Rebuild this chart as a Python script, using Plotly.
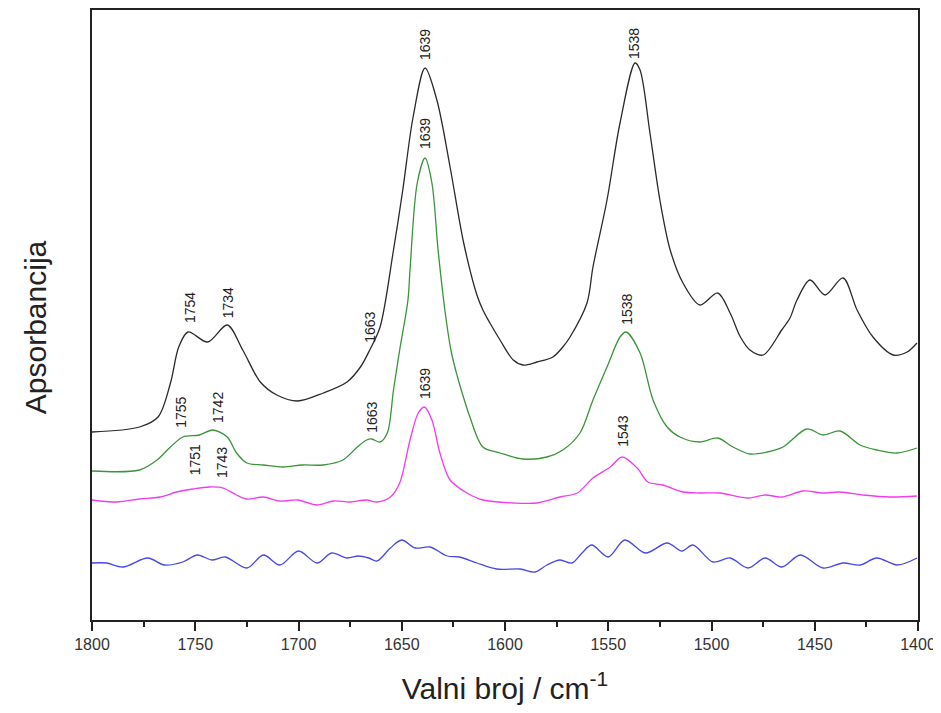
import plotly.graph_objects as go

# Wavenumber (cm-1) and absorbance (arbitrary units, offset spectra)
black_x = [1800, 1777, 1768, 1762, 1758, 1753.5, 1744, 1734.5, 1727, 1718.5, 1710.5, 1700.5, 1688, 1676.5,
           1670, 1665.5, 1660.5, 1654, 1649.5, 1644.5, 1638.7, 1633, 1626.6, 1620, 1613.6, 1610.7, 1607.3,
           1602.4, 1596, 1591.3, 1584.5, 1576.8, 1572, 1568.5, 1560.3, 1557.4, 1550.6, 1544.3, 1537, 1534.6,
           1529.8, 1525, 1520, 1513.8, 1505.6, 1497, 1491, 1486, 1481.4, 1475, 1466, 1462, 1458.6,
           1452.3, 1445, 1436.3, 1429.5, 1421.8, 1412, 1405.3, 1400.5]
black_y = [188, 193, 203, 237, 273, 288, 278, 295, 270, 238, 225, 219, 227, 238,
           253, 270, 293, 370, 430, 503, 552, 520, 453, 377, 325, 310, 297,
           280, 260, 255, 258, 263, 273, 283, 317, 353, 420, 497, 557, 550,
           487, 420, 370, 337, 315, 327, 307, 283, 270, 265, 290, 302, 320,
           340, 325, 342, 310, 283, 265, 268, 277]

green_x = [1800, 1777, 1768.5, 1762, 1756, 1748, 1741.5, 1734.5, 1730, 1725, 1717, 1707.5, 1698, 1688,
           1678.5, 1671.5, 1667, 1664.5, 1660.5, 1657, 1654, 1651, 1647, 1646, 1642.5, 1638.7, 1635.4,
           1632.4, 1629, 1626, 1623, 1620, 1617, 1610.7, 1602.4, 1591.3, 1579.7, 1572, 1563.7, 1557.4, 1550.6,
           1544.3, 1541.4, 1534.6, 1528.3, 1521.5, 1515.3, 1505.6, 1497, 1489.6, 1481.4, 1473, 1465.4,
           1453.8, 1446, 1437.8, 1428, 1420, 1410, 1400.5]
green_y = [149, 150, 160, 173, 183, 185, 190, 183, 167, 157, 155, 153, 155, 155,
           160, 173, 180, 181, 178, 187, 230, 270, 320, 350, 437, 462, 437,
           370, 308, 268, 243, 222, 203, 173, 167, 161, 163, 170, 187, 220, 253,
           283, 288, 267, 220, 193, 183, 178, 182, 173, 166, 168, 173,
           191, 185, 189, 175, 170, 167, 172]

magenta_x = [1800, 1788, 1777, 1767, 1759, 1751, 1743, 1736.5, 1730, 1725, 1717, 1709, 1700.5, 1691,
             1683, 1675, 1667, 1662, 1655.5, 1651, 1646, 1642, 1639, 1635.4, 1631.5, 1626.6, 1618.4,
             1610.7, 1596, 1584.5, 1573.4, 1565, 1557.4, 1549, 1543.3, 1536, 1530.8, 1523.5, 1513.8,
             1505.6, 1496, 1482.3, 1474, 1466, 1455.7, 1446, 1437.8, 1426.6, 1413.6, 1400.5]
magenta_y = [120, 118, 121, 123, 128, 131, 133, 132, 125, 121, 123, 119, 120, 115,
             119, 118, 120, 118, 123, 137, 180, 207, 213, 200, 167, 140, 127,
             120, 117, 117, 123, 127, 142, 153, 163, 152, 138, 135, 128,
             127, 127, 122, 125, 123, 129, 127, 128, 125, 123, 124]

blue_x = [1800, 1793, 1785, 1773, 1765, 1756, 1749, 1742, 1735.5, 1725, 1717, 1709, 1700, 1691, 1684,
          1676.5, 1671, 1666, 1662, 1655.5, 1650, 1643.5, 1636.3, 1628, 1622, 1613.6, 1604, 1592.7,
          1585.5, 1579.7, 1573.4, 1567.6, 1562.7, 1558, 1550, 1542, 1532, 1521.5, 1514.3, 1509,
          1499.3, 1491, 1482.3, 1474, 1466, 1457, 1446, 1436.3, 1428, 1420, 1410, 1400.5]
blue_y = [57, 57, 53, 62, 55, 58, 65, 60, 63, 52, 65, 55, 69, 57, 67,
          62, 64, 62, 59, 72, 80, 72, 73, 64, 63, 57, 51, 51,
          48, 55, 60, 57, 67, 75, 63, 80, 67, 77, 69, 75,
          58, 62, 52, 62, 53, 65, 52, 57, 55, 62, 55, 62]

# Peak labels
label_text = ["1754", "1734", "1663", "1639", "1538",
              "1755", "1742", "1663", "1639", "1538",
              "1751", "1743", "1639", "1543"]
label_x = [1752.5, 1734, 1665.5, 1638.7, 1537.5,
           1757, 1739, 1664.5, 1638.7, 1541,
           1750, 1737, 1638.7, 1543]
label_y = [312, 317, 293, 575, 576,
           208, 213, 203, 486, 311,
           160, 157, 236, 189]

fig = go.Figure()
series = [
    (black_x, black_y, "#2a2a2a"),
    (green_x, green_y, "#3a943a"),
    (magenta_x, magenta_y, "#f03cf0"),
    (blue_x, blue_y, "#4848e6"),
]
for xs, ys, col in series:
    fig.add_trace(go.Scatter(x=xs, y=ys, mode="lines",
                             line=dict(color=col, width=1.3, shape="spline", smoothing=0.9),
                             showlegend=False, hoverinfo="skip"))

for t, x, y in zip(label_text, label_x, label_y):
    fig.add_annotation(x=x, y=y, text=t, showarrow=False, textangle=-90,
                       xanchor="center", yanchor="middle",
                       font=dict(family="Liberation Sans, Arial", size=14, color="#222222"))

# Y-axis title (placed as rotated text, slightly below centre as in the original)
fig.add_annotation(x=0, y=0.48, xref="paper", yref="paper", text="Apsorbancija",
                   showarrow=False, textangle=-90, xanchor="center", yanchor="middle", xshift=-57,
                   font=dict(family="Liberation Sans, Arial", size=30, color="#222222"))

fig.update_layout(
    width=927, height=697,
    margin=dict(l=84, r=17, t=2, b=85, autoexpand=False),
    paper_bgcolor="white", plot_bgcolor="white",
    font=dict(family="Liberation Sans, Arial", color="#222222"),
    xaxis=dict(
        range=[1800, 1400], dtick=50, tick0=1400, automargin=False,
        ticks="outside", ticklen=9, tickwidth=1.5, tickcolor="#222222",
        minor=dict(dtick=25, ticks="outside", ticklen=5, tickwidth=1.5, tickcolor="#222222"),
        showline=True, linewidth=2, linecolor="#222222", mirror=True,
        showgrid=False, zeroline=False,
        ticklabeloverflow="allow",
        tickfont=dict(size=16, color="#333333"),
        title=dict(text="Valni broj / cm<sup>-1</sup>", font=dict(size=30, color="#222222"), standoff=26),
    ),
    yaxis=dict(
        range=[0, 610], showticklabels=False, ticks="", automargin=False,
        showline=True, linewidth=2, linecolor="#222222", mirror=True,
        showgrid=False, zeroline=False,
    ),
)

fig.write_html("out.html")
